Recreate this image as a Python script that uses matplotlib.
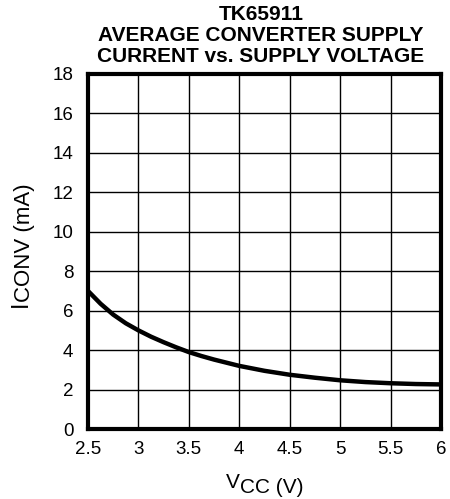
import matplotlib
matplotlib.use("Agg")
import matplotlib.pyplot as plt

plt.rcParams['font.family'] = ['Liberation Sans', 'DejaVu Sans']

title = "TK65911\nAVERAGE CONVERTER SUPPLY\nCURRENT vs. SUPPLY VOLTAGE"
vcc = [2.5, 2.625, 2.75, 2.875, 3.0, 3.125, 3.25, 3.375, 3.5, 3.625, 3.75, 4.0,
       4.25, 4.5, 4.75, 5.0, 5.25, 5.5, 5.75, 6.0]
iconv = [7.0, 6.35, 5.8, 5.36, 5.0, 4.68, 4.4, 4.14, 3.9, 3.7, 3.52, 3.2,
         2.95, 2.75, 2.6, 2.47, 2.38, 2.32, 2.28, 2.26]
xticks = [2.5, 3, 3.5, 4, 4.5, 5, 5.5, 6]
xticklabels = ["2.5", "3", "3.5", "4", "4.5", "5", "5.5", "6"]
yticks = [0, 2, 4, 6, 8, 10, 12, 14, 16, 18]

W, H = 450, 499
fig = plt.figure(figsize=(W / 100, H / 100), dpi=100)
ax = fig.add_axes([88 / W, 1 - 429 / H, (441 - 88) / W, (429 - 74) / H])

ax.plot(vcc, iconv, color='black', lw=3.2, solid_capstyle='butt',
        solid_joinstyle='round', zorder=3)
ax.set_xlim(2.5, 6)
ax.set_ylim(0, 18)
ax.set_xticks(xticks)
ax.set_xticklabels(xticklabels)
ax.set_yticks(yticks)
ax.grid(True, color='black', lw=1.0)
ax.tick_params(length=0, labelsize=13.5)
ax.tick_params(axis='y', pad=10.5)
ax.tick_params(axis='x', pad=9)
for s in ax.spines.values():
    s.set_linewidth(3)

fig.text(261 / W, 1 - 5 / H, title, ha='center', va='top', fontsize=15,
         fontweight='bold', linespacing=1.12)

r = fig.canvas.get_renderer()

# Y label: I + lowered CONV (mA), rotated
t1 = fig.text(27 / W, 1 - 307 / H, "I", rotation=90, rotation_mode='anchor',
              ha='left', va='baseline', fontsize=16.5)
fig.canvas.draw()
bb = t1.get_window_extent(r)
fig.text(30 / W, (bb.y1 - 1) / H, "CONV (mA)", rotation=90, rotation_mode='anchor',
         ha='left', va='baseline', fontsize=16)

# X label: V + lowered CC (V)
t2 = fig.text(226 / W, 1 - 488 / H, "V", ha='left', va='baseline', fontsize=15)
fig.canvas.draw()
bb2 = t2.get_window_extent(r)
fig.text(bb2.x1 / W, 1 - 493 / H, "CC (V)", ha='left', va='baseline', fontsize=15)

fig.savefig("out.png", dpi=100)
